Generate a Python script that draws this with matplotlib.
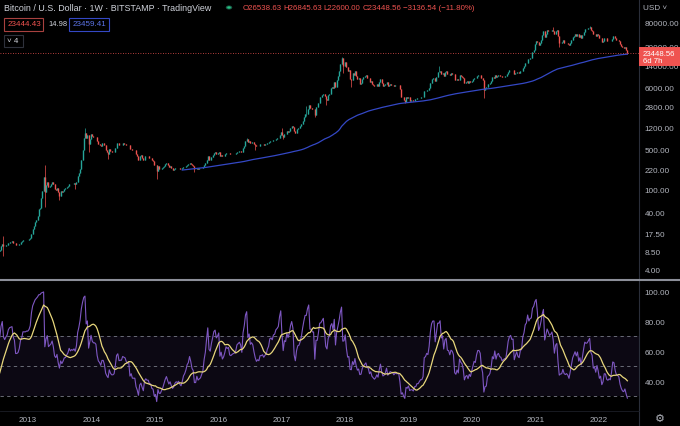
import numpy as np
import pandas as pd
import matplotlib
matplotlib.use('Agg')
import matplotlib.pyplot as plt
import matplotlib.dates as mdates
from matplotlib.patches import Rectangle, Circle
from matplotlib.lines import Line2D

plt.rcParams['font.family'] = ['Liberation Sans', 'DejaVu Sans']

# -- weekly closes, BITSTAMP BTCUSD, one list per year --
week_start = {2011: '2011-08-15', 2012: '2012-01-02', 2013: '2013-01-07',
              2014: '2014-01-06', 2015: '2015-01-05', 2016: '2016-01-04',
              2017: '2017-01-02', 2018: '2018-01-01', 2019: '2019-01-07',
              2020: '2020-01-06', 2021: '2021-01-04', 2022: '2022-01-03'}

close_2011 = [11.0, 9.0, 8.2, 6.9, 5.6, 5.4, 5.1, 4.9, 4.1, 3.2, 3.2, 3.2, 2.9,
              2.3, 2.5, 2.9, 3.0, 3.2, 3.9, 4.7]
close_2012 = [6.8, 6.6, 6.3, 5.6, 6.0, 5.7, 4.4, 4.8, 4.9, 4.9, 5.3, 4.8, 4.9,
              4.9, 4.9, 5.1, 5.1, 5.1, 5.0, 5.1, 5.1, 5.2, 5.5, 6.0, 6.5, 6.7,
              6.8, 7.5, 8.5, 8.9, 10.5, 11.5, 10.5, 10.3, 10.7, 11.0, 11.9, 12.3,
              12.4, 12.5, 11.9, 11.7, 10.8, 10.8, 10.9, 11.3, 12.2, 12.5, 13.4,
              13.4, 13.4, 13.5, 13.5]
close_2013 = [13.7, 14.2, 17.0, 20.4, 23.0, 27.0, 29.8, 34.0, 46.0, 47.0, 72.0,
              93.0, 162, 90, 120, 135, 112, 117, 122, 133, 122, 103, 99, 108, 90,
              77, 95, 89, 95, 103, 104, 110, 115, 126, 122, 125, 124, 127, 124,
              135, 170, 190, 225, 330, 480, 790, 970, 790, 880, 620, 750, 920]
close_2014 = [850, 830, 830, 815, 690, 620, 600, 565, 630, 630, 585, 480, 445,
              420, 500, 460, 440, 440, 450, 525, 630, 650, 590, 595, 595, 630,
              625, 620, 595, 585, 590, 495, 510, 475, 475, 475, 410, 380, 330,
              380, 390, 355, 325, 375, 385, 375, 375, 350, 350, 320, 315, 265]
close_2015 = [270, 210, 255, 225, 225, 235, 245, 260, 275, 285, 265, 248, 255,
              236, 222, 226, 236, 240, 237, 240, 230, 224, 233, 245, 250, 258,
              270, 275, 290, 280, 265, 260, 228, 228, 240, 230, 232, 234, 240,
              246, 268, 285, 325, 380, 330, 325, 360, 390, 430, 440, 420, 430]
close_2016 = [450, 380, 400, 375, 385, 405, 435, 430, 435, 412, 410, 415, 418,
              420, 428, 450, 455, 460, 455, 440, 525, 575, 700, 760, 660, 700,
              650, 665, 655, 620, 590, 570, 580, 575, 605, 605, 610, 600, 610,
              615, 640, 655, 700, 705, 700, 730, 735, 765, 775, 790, 890, 990]
close_2017 = [900, 820, 920, 915, 1020, 995, 1050, 1180, 1270, 1230, 1020, 960,
              1100, 1180, 1190, 1250, 1350, 1550, 1780, 2050, 2050, 2520, 2950,
              2550, 2550, 2500, 2500, 1930, 2750, 2750, 3230, 4050, 4100, 4350,
              4600, 4200, 3700, 3600, 4350, 4600, 5700, 6000, 5750, 7400, 5900,
              8000, 9300, 11200, 15000, 19100, 13800, 13900]
close_2018 = [16400, 13600, 11500, 11700, 8200, 8100, 10400, 9600, 11400, 9500,
              8200, 8500, 6900, 7000, 8300, 8900, 9300, 9650, 8700, 8500, 7350,
              7700, 6750, 6450, 6150, 6350, 6750, 6350, 7400, 8200, 7000, 6300,
              6400, 6700, 7300, 6250, 6500, 6700, 6600, 6550, 6300, 6450, 6400,
              6400, 6400, 5600, 4000, 4100, 3600, 3250, 4000, 3900, 4050]
close_2019 = [3500, 3550, 3550, 3420, 3650, 3650, 3800, 3800, 3900, 3980, 3980,
              4100, 5050, 5100, 5300, 5250, 5750, 7000, 8200, 8700, 8700, 7650,
              8950, 10800, 10800, 11400, 10200, 10600, 9500, 11000, 11300, 10200,
              10150, 9750, 10400, 10300, 10000, 8050, 7850, 8300, 7950, 9550,
              9200, 9050, 8500, 7050, 7400, 7500, 7100, 7500, 7250, 7750]
close_2020 = [8200, 8700, 8600, 9380, 9900, 9900, 9700, 8550, 8000, 5350, 5850,
              5900, 6800, 6900, 7100, 7700, 8900, 8700, 9700, 8900, 9500, 9650,
              9350, 9300, 9000, 9100, 9200, 9200, 9950, 11050, 11700, 11900,
              11650, 11700, 10250, 10700, 11100, 10750, 10650, 11350, 11500,
              13100, 13800, 15500, 16000, 18700, 18200, 19100, 19300, 24700,
              26500, 33000]
close_2021 = [38200, 36000, 32100, 34300, 39300, 48600, 57500, 45200, 51000,
              59000, 57500, 55800, 57100, 59800, 56200, 49100, 56600, 58300,
              46400, 34700, 35600, 35800, 39000, 35500, 34700, 35300, 34200,
              31800, 35400, 39900, 44600, 47000, 49300, 47100, 49900, 45000,
              47300, 43200, 48200, 54700, 61500, 60900, 61300, 63300, 65500,
              58700, 57200, 49400, 50100, 46700, 50800, 47300]
close_2022 = [41900, 43100, 36300, 37900, 42400, 42200, 38400, 37700, 38400,
              37800, 41300, 46800, 46400, 42200, 39700, 39400, 38500, 34100,
              31300, 29500, 29000, 29900, 26585, 23448.56]

# notable weekly wicks
wick_weeks = ['2012-08-13', '2013-04-08', '2013-07-01', '2013-09-30', '2013-11-25',
              '2013-12-16', '2014-04-07', '2015-01-12', '2015-08-17', '2016-06-13',
              '2016-08-01', '2017-01-02', '2017-01-09', '2017-05-22', '2017-07-10',
              '2017-09-11', '2017-12-11', '2017-12-18', '2018-02-05', '2018-12-10',
              '2019-06-24', '2020-03-09', '2021-04-12', '2021-05-17', '2021-11-08',
              '2022-06-13']
wick_high = [15.4, 266, np.nan, np.nan, 1163, np.nan, np.nan, np.nan, np.nan, 780,
             np.nan, 1150, np.nan, 2760, np.nan, np.nan, 19666, np.nan, np.nan, np.nan,
             13880, np.nan, 64900, np.nan, 69000, 26845.63]
wick_low = [7.1, 50, 65, 100, np.nan, 455, 340, 152, 199, np.nan, 480, np.nan, 750,
            1900, 1830, 2970, np.nan, 10400, 6000, 3122, np.nan, 3850, np.nan, 30000,
            np.nan, 22600]

# header / legend texts
header_title = 'Bitcoin / U.S. Dollar · 1W · BITSTAMP · TradingView'
header_ohlc = ['O26538.63', 'H26845.63', 'L22600.00', 'C23448.56',
               '\u22123136.54 (\u221211.80%)']
last_price = 23448.56

years = [2011, 2012, 2013, 2014, 2015, 2016, 2017, 2018, 2019, 2020, 2021, 2022]
closes = [close_2011, close_2012, close_2013, close_2014, close_2015, close_2016,
          close_2017, close_2018, close_2019, close_2020, close_2021, close_2022]

parts = []
for yr, cl in zip(years, closes):
    d = pd.date_range(week_start[yr], periods=len(cl), freq='7D')
    parts.append(pd.Series(cl, index=d, dtype=float))
df = pd.DataFrame({'close': pd.concat(parts)})
df['open'] = df['close'].shift(1).fillna(df['close'])
df['high'] = df[['open', 'close']].max(axis=1)
df['low'] = df[['open', 'close']].min(axis=1)
for w, h, l in zip(wick_weeks, wick_high, wick_low):
    t = pd.Timestamp(w)
    if t in df.index:
        if not np.isnan(h):
            df.loc[t, 'high'] = max(h, df.loc[t, 'high'])
        if not np.isnan(l):
            df.loc[t, 'low'] = min(l, df.loc[t, 'low'])

# indicators: 200 week SMA, RSI(14) and its 14 SMA
df['ma200'] = df['close'].rolling(200).mean()
delta = df['close'].diff()
gain = delta.clip(lower=0).ewm(alpha=1/14, adjust=False).mean()
loss = (-delta.clip(upper=0)).ewm(alpha=1/14, adjust=False).mean()
df['rsi'] = 100 - 100 / (1 + gain / loss)
df['rsi_ma'] = df['rsi'].rolling(14).mean()

# -- figure --
W, H = 680, 427
BG = '#000000'
TXT = '#b2b5be'
UP, DN = '#26a69a', '#ef5350'

fig = plt.figure(figsize=(W / 100, H / 100), dpi=100, facecolor=BG)
ax = fig.add_axes([0, 147 / H, 639 / W, 280 / H], facecolor=BG)
ax2 = fig.add_axes([0, 16 / H, 639 / W, 129 / H], facecolor=BG)

x = mdates.date2num(df.index.to_pydatetime())
cols = np.where(df['close'] >= df['open'], UP, DN)
ax.vlines(x, df['low'], df['high'], colors=cols, lw=0.5)
ax.vlines(x, df['open'], df['close'], colors=cols, lw=1.0)
ax.plot(x, df['ma200'], color='#3448c5', lw=0.9)
ax.axhline(last_price, color=DN, ls=(0, (1, 2)), lw=0.6)

ax.set_yscale('log')
ax.set_ylim(2.79, 202800)
price_ticks = [4, 8.5, 17.5, 40, 100, 220, 500, 1200, 2800, 6000, 14000, 30000, 80000]
ax.set_yticks(price_ticks)
ax.set_yticklabels(['%.2f' % v for v in price_ticks])
ax.yaxis.set_minor_locator(matplotlib.ticker.NullLocator())

ax2.axhspan(30, 70, color='#7e57c2', alpha=0.1, lw=0)
for lvl in [30, 50, 70]:
    ax2.axhline(lvl, color='#787b86', ls=(0, (4, 4)), lw=0.6)
ax2.plot(x, df['rsi'], color='#7e57c2', lw=0.8)
ax2.plot(x, df['rsi_ma'], color='#e8d77c', lw=0.9)
ax2.set_ylim(20.9, 106.9)
rsi_ticks = [40, 60, 80, 100]
ax2.set_yticks(rsi_ticks)
ax2.set_yticklabels(['%.2f' % v for v in rsi_ticks])

x0 = mdates.date2num(pd.Timestamp('2012-07-24'))
x1 = mdates.date2num(pd.Timestamp('2022-08-19'))
year_ticks = [mdates.date2num(pd.Timestamp('%d-01-01' % y)) for y in range(2013, 2023)]
for a in (ax, ax2):
    a.set_xlim(x0, x1)
    a.yaxis.tick_right()
    a.tick_params(axis='y', length=0, pad=4, labelsize=5.9, labelcolor=TXT)
    for s in a.spines.values():
        s.set_visible(False)
ax.set_xticks([])
ax2.set_xticks(year_ticks)
ax2.set_xticklabels([str(y) for y in range(2013, 2023)])
ax2.tick_params(axis='x', length=0, pad=4, labelsize=5.9, labelcolor=TXT)


def px(xp, yp):
    return xp / W, 1 - yp / H


# panel borders
fig.add_artist(Line2D([639 / W] * 2, [0, 1], color='#2a2e39', lw=0.8))
fig.add_artist(Line2D([0, 1], [1 - 280.5 / H] * 2, color='#8c8f99', lw=1.5))
fig.add_artist(Line2D([0, 639 / W], [1 - 411.5 / H] * 2, color='#1c1f27', lw=0.6))

# price label on the scale
fig.add_artist(Rectangle(px(639, 67), 41 / W, 19 / H, transform=fig.transFigure,
                         facecolor=DN, edgecolor='none', zorder=5))
fig.text(*px(643, 54), '%.2f' % last_price, color='white', fontsize=5.6,
         va='center', zorder=6)
fig.text(*px(643, 62), '6d 7h', color='white', fontsize=5.6, va='center', zorder=6)
fig.text(*px(643, 8), 'USD ˅', color=TXT, fontsize=5.9, va='center')

# header / legend
fig.text(*px(4, 8.5), header_title, color='#d1d4dc', fontsize=6.4, va='center')
fig.add_artist(Circle(px(229, 8.5), 3.2 / W, transform=fig.transFigure,
                      facecolor='#1b5e4a', edgecolor='none'))
fig.add_artist(Circle(px(229, 8.5), 1.8 / W, transform=fig.transFigure,
                      facecolor='#26c281', edgecolor='none'))
for xp, s in zip([243, 283, 323, 363, 403], header_ohlc):
    fig.text(*px(xp, 8.5), s, color=DN, fontsize=5.7, va='center')

fig.add_artist(Rectangle(px(3.5, 32), 39.5 / W, 13.5 / H, transform=fig.transFigure,
                         facecolor='none', edgecolor='#a8413f', lw=0.8))
fig.text(*px(8, 25), '23444.43', color=DN, fontsize=5.8, va='center')
fig.text(*px(48, 25), '14.98', color='#d1d4dc', fontsize=5.4, va='center')
fig.add_artist(Rectangle(px(68.5, 32), 40 / W, 13.5 / H, transform=fig.transFigure,
                         facecolor='none', edgecolor='#3448c5', lw=0.8))
fig.text(*px(73, 25), '23459.41', color='#5c73e6', fontsize=5.8, va='center')
fig.add_artist(Rectangle(px(3.5, 47.5), 19 / W, 12 / H, transform=fig.transFigure,
                         facecolor='none', edgecolor='#2e313b', lw=0.8))
fig.text(*px(7, 41.5), '˅ 4', color='#d1d4dc', fontsize=5.8, va='center')

fig.text(*px(660, 419), '⚙', color=TXT, fontsize=8, va='center', ha='center',
         family=['DejaVu Sans'])

fig.savefig('out.png', dpi=100, facecolor=BG)
